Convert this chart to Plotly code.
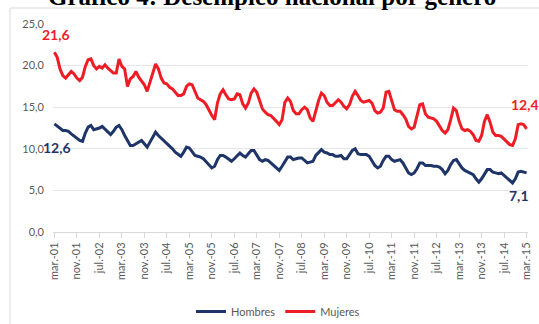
import plotly.graph_objects as go

x_labels = ["mar.-01", "nov.-01", "jul.-02", "mar.-03", "nov.-03", "jul.-04", "mar.-05",
            "nov.-05", "jul.-06", "mar.-07", "nov.-07", "jul.-08", "mar.-09", "nov.-09",
            "jul.-10", "mar.-11", "nov.-11", "jul.-12", "mar.-13", "nov.-13", "jul.-14", "mar.-15"]

mujeres = [
    21.6, 21.0, 19.6, 18.8, 18.5, 18.9, 19.3, 19.0, 18.5, 18.2,
    18.6, 19.9, 20.7, 20.8, 20.0, 19.6, 19.9, 19.7, 20.1, 19.7,
    19.4, 19.1, 19.1, 20.8, 19.9, 19.6, 17.5, 18.4, 18.7, 19.3,
    18.6, 18.1, 17.7, 16.9, 18.0, 19.2, 20.2, 19.6, 18.5, 17.9,
    17.8, 17.4, 17.2, 16.8, 16.4, 16.4, 16.6, 17.5, 17.8, 17.7,
    16.9, 16.1, 15.9, 15.7, 15.3, 14.6, 14.0, 13.5, 15.5, 16.6,
    17.1, 16.5, 16.0, 15.9, 16.0, 16.6, 16.5, 15.4, 14.9, 15.5,
    16.7, 17.2, 16.8, 15.8, 14.8, 14.4, 14.1, 14.0, 13.7, 13.3,
    12.9, 13.5, 15.6, 16.1, 15.7, 14.6, 14.2, 14.2, 14.7, 15.0,
    14.7, 13.7, 13.3, 14.6, 15.8, 16.7, 16.4, 15.6, 15.2, 15.2,
    15.5, 15.9, 15.6, 15.1, 14.8, 15.3, 16.3, 16.9, 16.4, 15.8,
    15.6, 15.7, 15.8, 15.5, 14.6, 14.3, 14.4, 14.9, 16.8, 16.9,
    15.7, 14.7, 14.5, 14.5, 14.1, 13.6, 12.7, 12.4, 12.6, 14.0,
    15.3, 15.4, 14.2, 13.8, 13.7, 13.6, 13.3, 12.8, 12.2, 11.9,
    12.3, 13.5, 14.9, 14.6, 13.3, 12.4, 12.2, 12.3, 12.1, 11.7,
    11.0, 10.9, 11.6, 13.3, 14.1, 13.2, 12.0, 11.6, 11.6, 11.5,
    11.2, 10.8, 10.5, 10.4, 11.2, 12.9, 13.0, 12.9, 12.4,
]

hombres = [
    13.0, 12.7, 12.4, 12.2, 12.2, 12.1, 11.8, 11.5, 11.3, 11.0,
    10.9, 11.9, 12.6, 12.8, 12.3, 12.4, 12.5, 12.7, 12.4, 12.0,
    11.7, 12.1, 12.6, 12.8, 12.3, 11.6, 10.9, 10.4, 10.4, 10.6,
    10.9, 11.0, 10.6, 10.2, 10.8, 11.5, 12.0, 11.6, 11.3, 11.0,
    10.6, 10.3, 10.0, 9.6, 9.3, 9.1, 9.6, 10.2, 10.1, 9.6,
    9.2, 9.1, 9.0, 8.8, 8.4, 8.0, 7.7, 7.9, 8.7, 9.2,
    9.2, 9.0, 8.7, 8.5, 8.8, 9.2, 9.5, 9.2, 9.0, 9.4,
    9.8, 9.8, 9.3, 8.7, 8.5, 8.7, 8.6, 8.3, 8.0, 7.7,
    7.4, 7.9, 8.5, 9.0, 9.0, 8.7, 8.8, 8.9, 8.9, 8.6,
    8.3, 8.4, 8.5, 9.2, 9.6, 9.9, 9.6, 9.5, 9.3, 9.3,
    9.1, 9.1, 9.2, 8.8, 8.8, 9.3, 9.8, 10.0, 9.4, 9.3,
    9.3, 9.3, 9.1, 8.6, 8.0, 7.7, 7.9, 8.6, 9.1, 9.1,
    8.7, 8.5, 8.6, 8.7, 8.3, 7.6, 7.1, 6.9, 7.1, 7.6,
    8.3, 8.3, 8.0, 8.0, 8.0, 7.9, 7.9, 7.8, 7.5, 7.0,
    7.4, 8.1, 8.6, 8.7, 8.2, 7.7, 7.4, 7.2, 7.0, 6.9,
    6.4, 6.0, 6.4, 7.0, 7.5, 7.5, 7.2, 7.1, 7.0, 7.1,
    6.8, 6.5, 6.1, 5.9, 6.4, 7.2, 7.3, 7.2, 7.1,
]

y_ticks = [0, 5, 10, 15, 20, 25]
y_ticktext = ["0,0", "5,0", "10,0", "15,0", "20,0", "25,0"]

months = list(range(len(mujeres)))
tick_idx = list(range(0, len(mujeres), 8))

RED = "#ee1c25"
NAVY = "#1f3468"
GREY = "#595959"
FONT = "Lato, 'Open Sans', sans-serif"

fig = go.Figure()
fig.add_trace(go.Scatter(x=months, y=hombres, mode="lines", name="Hombres",
                         line=dict(color=NAVY, width=3)))
fig.add_trace(go.Scatter(x=months, y=mujeres, mode="lines", name="Mujeres",
                         line=dict(color=RED, width=3)))

ann = [
    dict(x=0, y=mujeres[0], text="21,6", color=RED, ax=2, ay=-18),
    dict(x=0, y=hombres[0], text="12,6", color=NAVY, ax=3, ay=24),
    dict(x=months[-1], y=mujeres[-1], text="12,4", color=RED, ax=-2, ay=-24),
    dict(x=months[-1], y=hombres[-1], text="7,1", color=NAVY, ax=-8, ay=23),
]
for a in ann:
    fig.add_annotation(x=a["x"], y=a["y"], text="<b>%s</b>" % a["text"], showarrow=True,
                       arrowcolor="rgba(0,0,0,0)", ax=a["ax"], ay=a["ay"],
                       font=dict(color=a["color"], size=14, family=FONT))

fig.add_annotation(xref="paper", yref="paper", x=(272 - 53) / 475, y=(232 - 12) / 208,
                   xanchor="center", yanchor="bottom", showarrow=False,
                   text="<b>Gráfico 4: Desempleo nacional por género</b>",
                   font=dict(family="'Liberation Serif', 'Times New Roman', serif",
                             size=25, color="#000000"))

fig.add_shape(type="rect", xref="paper", yref="paper",
              x0=(10 - 53) / 475, x1=(545 - 53) / 475,
              y0=(232 - 330) / 208, y1=(232 - 8) / 208,
              line=dict(color="#d9d9d9", width=1), layer="below")

fig.update_layout(
    width=539, height=324,
    margin=dict(l=53, r=11, t=24, b=92, autoexpand=False),
    paper_bgcolor="white", plot_bgcolor="white",
    font=dict(family=FONT, size=11, color=GREY),
    showlegend=True,
    legend=dict(orientation="h", xref="container", yref="container",
                x=278 / 539, xanchor="center", y=1 - 297 / 324,
                yanchor="top", font=dict(size=11, color=GREY), itemwidth=30),
    xaxis=dict(range=[-0.5, len(mujeres) - 0.5], tickvals=tick_idx, ticktext=x_labels,
               tickangle=-90, showgrid=False, zeroline=False, showline=True,
               linecolor="#d9d9d9", linewidth=1, ticks="outside", ticklen=5,
               tickcolor="#d9d9d9", tickfont=dict(size=11, color=GREY), automargin=False),
    yaxis=dict(range=[0, 25], tickvals=y_ticks, ticktext=y_ticktext, showgrid=True,
               gridcolor="#e6e6e6", gridwidth=1, zeroline=False, showline=False,
               ticks="", ticklabelstandoff=8, tickfont=dict(size=11, color=GREY),
               automargin=False),
)

fig.write_html("out.html")
